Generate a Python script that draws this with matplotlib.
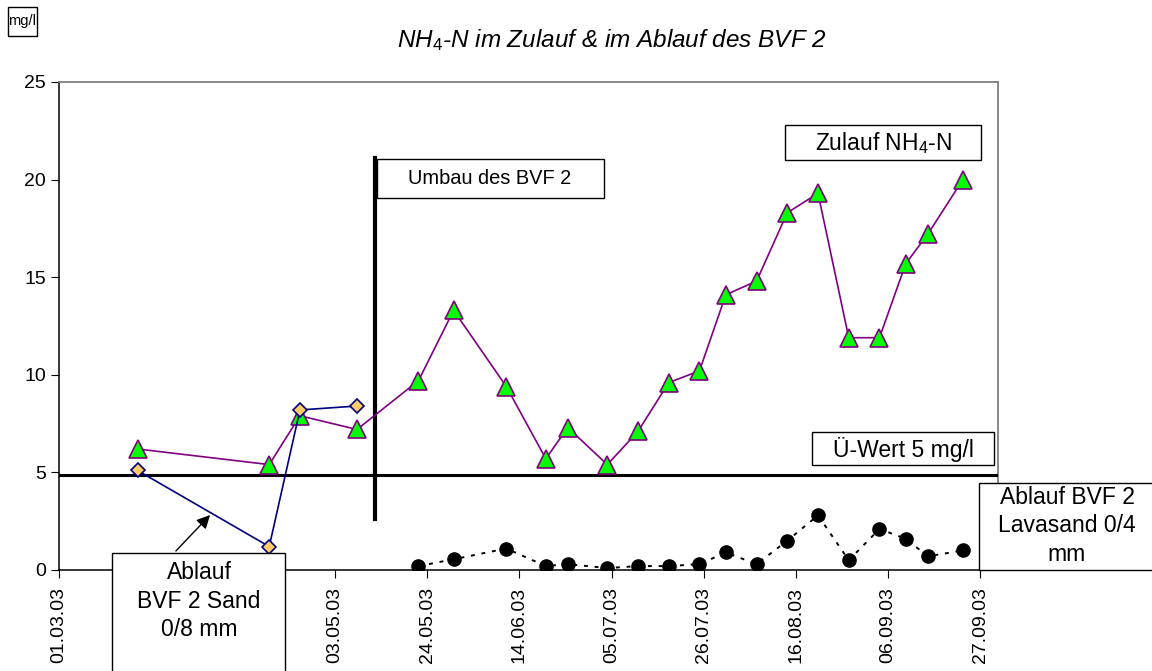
import matplotlib
matplotlib.use("Agg")
from matplotlib import pyplot as plt
from matplotlib.patches import Rectangle
import pandas as pd

plt.rcParams['font.family'] = ['Liberation Sans', 'DejaVu Sans']
plt.rcParams['mathtext.fontset'] = 'custom'
plt.rcParams['mathtext.rm'] = 'Liberation Sans'
plt.rcParams['mathtext.it'] = 'Liberation Sans:italic'

# Messdaten NH4-N (mg/l)
zulauf_datum = ['2003-03-19', '2003-04-18', '2003-04-25', '2003-05-08', '2003-05-22', '2003-05-30',
                '2003-06-11', '2003-06-20', '2003-06-25', '2003-07-04', '2003-07-11', '2003-07-18',
                '2003-07-25', '2003-07-31', '2003-08-07', '2003-08-14', '2003-08-21', '2003-08-28',
                '2003-09-04', '2003-09-10', '2003-09-15', '2003-09-23']
zulauf = [6.2, 5.4, 7.9, 7.2, 9.7, 13.3, 9.4, 5.7, 7.3, 5.4, 7.1, 9.6,
          10.2, 14.1, 14.8, 18.3, 19.3, 11.9, 11.9, 15.7, 17.2, 20.0]

sand_datum = ['2003-03-19', '2003-04-18', '2003-04-25', '2003-05-08']
ablauf_sand = [5.1, 1.2, 8.2, 8.4]

lava_datum = zulauf_datum[4:]
ablauf_lava = [0.2, 0.55, 1.1, 0.2, 0.3, 0.1, 0.2, 0.2, 0.3, 0.9, 0.3, 1.5,
               2.8, 0.5, 2.1, 1.6, 0.7, 1.0]

umbau_datum = '2003-05-12'
ue_wert = 4.85
x_ticks = ['01.03.03', '22.03.03', '12.04.03', '03.05.03', '24.05.03', '14.06.03',
           '05.07.03', '26.07.03', '16.08.03', '06.09.03', '27.09.03']
# 22.03. und 12.04. liegen unter dem Textfeld und sind nicht zu sehen
x_labels = ['01.03.03', '', '', '03.05.03', '24.05.03', '14.06.03',
            '05.07.03', '26.07.03', '16.08.03', '06.09.03', '27.09.03']
y_ticks = [0, 5, 10, 15, 20, 25]

W, H = 1152, 671
fig = plt.figure(figsize=(W / 100, H / 100), dpi=100)


def px(x, y):
    return x / W, 1 - y / H


ax = fig.add_axes([58.5 / W, 1 - 570 / H, (998 - 58.5) / W, (570 - 82) / H])

ax.plot(pd.to_datetime(zulauf_datum), zulauf, color='#800080', lw=1.2, marker='^', ms=12.5,
        mfc='#00ff00', mec='#800080', mew=1.2, zorder=4)
ax.plot(pd.to_datetime(sand_datum), ablauf_sand, color='#000080', lw=1.2, marker='D', ms=7,
        mfc='#ffcc66', mec='#000080', mew=1.2, zorder=5)
ax.plot(pd.to_datetime(lava_datum), ablauf_lava, color='black', lw=1.4, ls=(0, (2, 3.5)),
        marker='o', ms=9.5, mfc='black', mec='black', zorder=4)

ax.axhline(ue_wert, color='black', lw=2.2, zorder=3)
ax.plot([pd.Timestamp(umbau_datum)] * 2, [2.6, 21.1], color='black', lw=3, zorder=3)

ax.set_xlim(pd.Timestamp('2003-03-01'), pd.Timestamp('2003-10-01'))
ax.set_ylim(0, 25)
ax.set_xticks(pd.to_datetime(x_ticks, format='%d.%m.%y'))
ax.set_xticklabels(x_labels)
ax.set_yticks(y_ticks)
ax.tick_params(axis='x', labelsize=14, rotation=90, length=6, pad=6)
ax.tick_params(axis='y', labelsize=14, length=6, pad=3)
for s in ['top', 'right']:
    ax.spines[s].set_color('#808080')
    ax.spines[s].set_linewidth(1.3)
for s in ['left', 'bottom']:
    ax.spines[s].set_color('black')
    ax.spines[s].set_linewidth(1.1)


def box(x0, y0, x1, y1):
    (a, b), (c, d) = px(x0, y1), px(x1, y0)
    fig.add_artist(Rectangle((a, b), c - a, d - b, transform=fig.transFigure,
                             fc='white', ec='black', lw=1, zorder=5))


box(8, 7, 37, 36)
fig.text(*px(22.5, 21.5), 'mg/l', ha='center', va='center', fontsize=10.5, zorder=6)

fig.text(*px(612, 40), r'NH$_{\mathit{4}}$-N im Zulauf & im Ablauf des BVF 2',
         ha='center', va='center', fontsize=17.5, style='italic')

box(377, 159, 604, 198)
fig.text(*px(490, 179), 'Umbau des BVF 2', ha='center', va='center', fontsize=14.4, zorder=6)

box(785, 125, 981, 160)
fig.text(*px(883, 143), r'Zulauf NH$_4$-N', ha='center', va='center', fontsize=16.5, zorder=6)

box(812, 432, 994, 465)
fig.text(*px(903, 449), 'Ü-Wert 5 mg/l', ha='center', va='center', fontsize=16.5, zorder=6)

box(979, 483, 1160, 570)
fig.text(*px(1067, 526), 'Ablauf BVF 2\nLavasand 0/4\nmm', ha='center', va='center',
         fontsize=16.5, linespacing=1.3, zorder=6)

box(112, 553, 285, 680)
fig.text(*px(199, 601), 'Ablauf\nBVF 2 Sand\n0/8 mm', ha='center', va='center',
         fontsize=16.5, linespacing=1.3, zorder=6)

ax.annotate('', xy=px(212, 513), xytext=px(174, 553), xycoords='figure fraction',
            arrowprops=dict(arrowstyle='-|>', color='black', lw=1, mutation_scale=20))

fig.savefig('out.png', dpi=100)
